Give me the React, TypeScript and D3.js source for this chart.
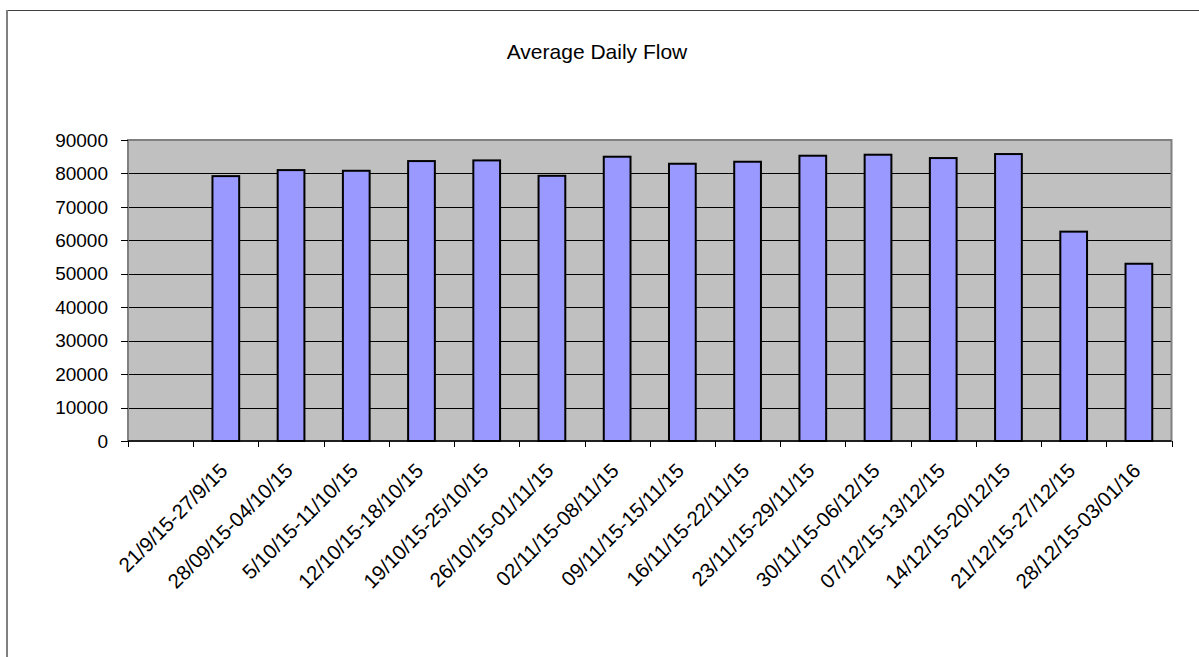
import React from "react";
import * as d3 from "d3";

const title = "Average Daily Flow";
const categories: string[] = [
  "",
  "21/9/15-27/9/15",
  "28/09/15-04/10/15",
  "5/10/15-11/10/15",
  "12/10/15-18/10/15",
  "19/10/15-25/10/15",
  "26/10/15-01/11/15",
  "02/11/15-08/11/15",
  "09/11/15-15/11/15",
  "16/11/15-22/11/15",
  "23/11/15-29/11/15",
  "30/11/15-06/12/15",
  "07/12/15-13/12/15",
  "14/12/15-20/12/15",
  "21/12/15-27/12/15",
  "28/12/15-03/01/16",
];
const values: (number | null)[] = [
  null, 79200, 81000, 80800, 83700, 83900, 79300, 85000, 82900, 83500, 85300, 85600, 84600, 85800, 62600, 53000,
];
const yTicks: number[] = [0, 10000, 20000, 30000, 40000, 50000, 60000, 70000, 80000, 90000];

const W = 1199;
const H = 657;
const plot = { left: 128, right: 1171.5, top: 140, bottom: 441 };
const FONT = "'Liberation Sans', Arial, Helvetica, sans-serif";

export default function App() {
  const x = d3
    .scaleBand<number>()
    .domain(categories.map((_, i) => i))
    .range([plot.left, plot.right])
    .paddingInner(0)
    .paddingOuter(0);
  const y = d3.scaleLinear().domain([0, 90000]).range([plot.bottom, plot.top]);
  const bw = x.bandwidth();
  const barW = bw * 0.41;

  return (
    <svg
      width={W}
      height={H}
      style={{ position: "absolute", left: 0, top: 0, background: "#fff" }}
      fontFamily={FONT}
    >
      {/* outer chart border (top and left visible) */}
      <line x1={7} x2={W} y1={10.5} y2={10.5} stroke="#404040" strokeWidth={1} />
      <line x1={7} x2={7} y1={10} y2={H} stroke="#808080" strokeWidth={2} />

      <text x={597} y={59} textAnchor="middle" fontSize={21} fill="#000">
        {title}
      </text>

      {/* plot background */}
      <rect
        x={plot.left}
        y={plot.top}
        width={plot.right - plot.left}
        height={plot.bottom - plot.top}
        fill="#c0c0c0"
      />
      {/* gridlines */}
      {yTicks.map((t) =>
        t === 0 ? null : (
          <line
            key={"g" + t}
            x1={plot.left}
            x2={plot.right}
            y1={Math.round(y(t)) + 0.5}
            y2={Math.round(y(t)) + 0.5}
            stroke="#000"
            strokeWidth={1}
          />
        )
      )}
      {/* plot border */}
      <rect
        x={plot.left}
        y={plot.top}
        width={plot.right - plot.left}
        height={plot.bottom - plot.top}
        fill="none"
        stroke="#808080"
        strokeWidth={2}
      />

      {/* bars */}
      {values.map((v, i) =>
        v == null ? null : (
          <rect
            key={"b" + i}
            x={(x(i) as number) + bw / 2 - barW / 2}
            y={y(v)}
            width={barW}
            height={y(0) - y(v)}
            fill="#9999ff"
            stroke="#000"
            strokeWidth={2}
          />
        )
      )}

      {/* x axis */}
      <line x1={plot.left} x2={plot.right} y1={plot.bottom} y2={plot.bottom} stroke="#000" strokeWidth={1.5} />
      {categories.map((_, i) => (
        <line
          key={"xt" + i}
          x1={Math.round(x(i) as number) + 0.5}
          x2={Math.round(x(i) as number) + 0.5}
          y1={plot.bottom}
          y2={plot.bottom + 6}
          stroke="#000"
          strokeWidth={1}
        />
      ))}
      <line
        x1={Math.round(plot.right) + 0.5}
        x2={Math.round(plot.right) + 0.5}
        y1={plot.bottom}
        y2={plot.bottom + 6}
        stroke="#000"
        strokeWidth={1}
      />
      {categories.map((c, i) => {
        const cx = (x(i) as number) + bw / 2 + 3;
        const cy = plot.bottom + 31;
        return (
          <text
            key={"xl" + i}
            transform={`translate(${cx},${cy}) rotate(-45)`}
            textAnchor="end"
            fontSize={20.5}
            fill="#000"
          >
            {c}
          </text>
        );
      })}

      {/* y axis ticks and labels */}
      {yTicks.map((t) => (
        <g key={"yt" + t}>
          <line
            x1={plot.left - 7}
            x2={plot.left}
            y1={Math.round(y(t)) + 0.5}
            y2={Math.round(y(t)) + 0.5}
            stroke="#000"
            strokeWidth={1}
          />
          <text x={108} y={y(t)} dy="0.35em" textAnchor="end" fontSize={19} fill="#000">
            {t}
          </text>
        </g>
      ))}
    </svg>
  );
}
